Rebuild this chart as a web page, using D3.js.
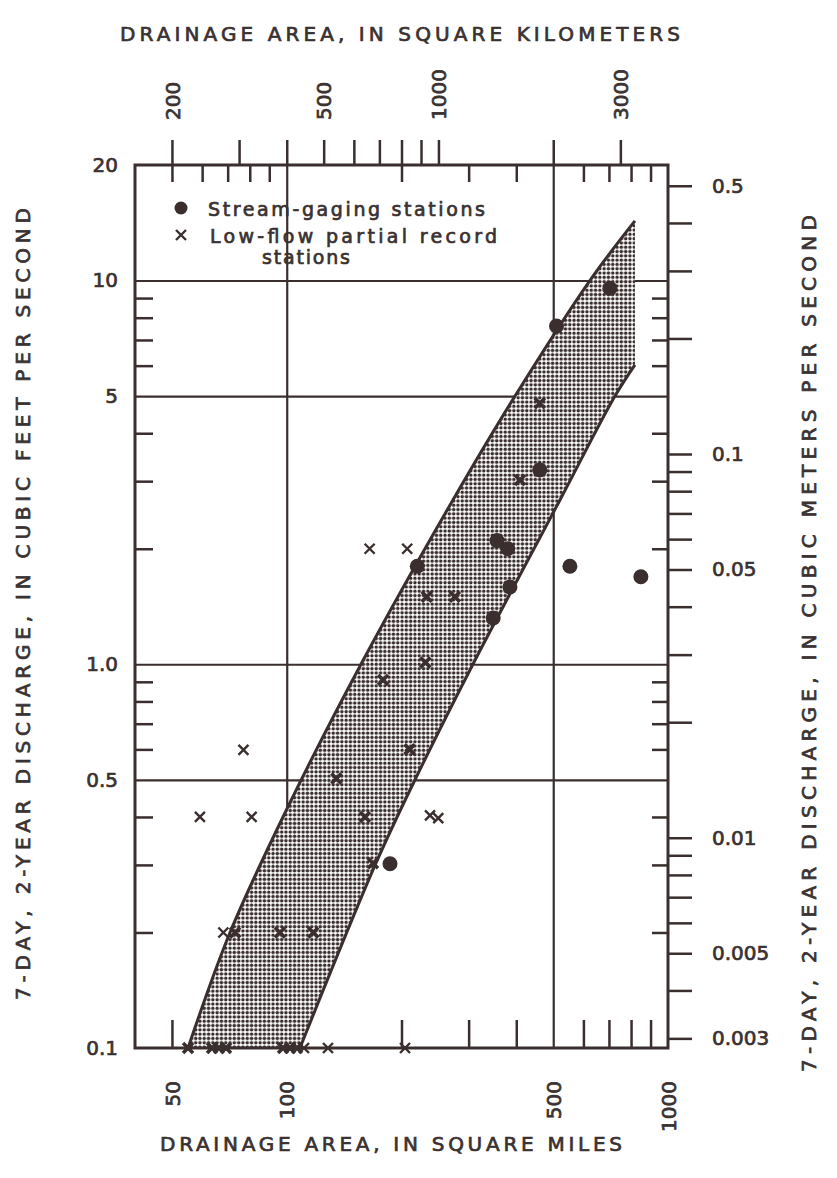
<!DOCTYPE html>
<html>
<head>
<meta charset="utf-8">
<script src="https://cdn.jsdelivr.net/npm/d3@7/dist/d3.min.js"></script>
<style>
  body { margin: 0; background: #fff; }
  text { font-family: "DejaVu Sans", sans-serif; fill: #3a3131; stroke: #3a3131; stroke-width: 0.7px; }
</style>
</head>
<body>
<div class="container"></div>
<script>
// stream-gaging stations: drainage area (sq mi), 7-day 2-year flow (cfs)
var gagingArea = [704, 510, 461, 356, 380, 385, 348, 220, 553, 849, 186.6];
var gagingFlow = [9.54, 7.61, 3.21, 2.10, 2.0, 1.59, 1.32, 1.80, 1.80, 1.69, 0.302];

// low-flow partial record stations
var partialArea = [461, 409, 165, 207, 233, 276, 231, 179, 210, 135, 77, 59.2, 80.9, 160.4, 237.6, 249.7, 168.4,
  68.2, 73.2, 96, 117.4, 55.1, 63.7, 66.4, 69.3, 97.8, 102, 106.4, 111, 128.3, 204.3];
var partialFlow = [4.79, 3.02, 2.0, 2.0, 1.5, 1.5, 1.01, 0.91, 0.60, 0.504, 0.598, 0.40, 0.40, 0.40, 0.404, 0.397, 0.303,
  0.2, 0.2, 0.2, 0.2, 0.1, 0.1, 0.1, 0.1, 0.1, 0.1, 0.1, 0.1, 0.1, 0.1];

// shaded band edges
var upperArea = [55.1, 71.0, 99.8, 156.6, 272.9, 397, 624, 819];
var upperFlow = [0.1, 0.2, 0.417, 1.0, 2.68, 5.0, 10.0, 14.3];
var lowerArea = [108.3, 171.5, 217, 307.9, 520.8, 726, 819];
var lowerFlow = [0.1, 0.3035, 0.5, 1.0, 2.68, 5.0, 6.03];

// axes
var flowLabels = [20, 10, 5, 1, 0.5, 0.1];
var flowText = ["20", "10", "5", "1.0", "0.5", "0.1"];
var flowGrid = [10, 5, 1, 0.5];
var flowMinor = [9, 8, 7, 6, 4, 3, 2, 0.9, 0.8, 0.7, 0.6, 0.4, 0.3, 0.2];
var areaGrid = [100, 500];
var areaMinorBottom = [50, 200, 300, 400, 600, 700, 800, 900];
var areaMinorTop = [50, 60, 70, 80, 90, 200, 300, 400, 600, 700, 800, 900];
var areaLabels = [50, 100, 500, 1000];
var kmTicks = [200, 300, 400, 500, 600, 700, 800, 900, 1000, 2000, 3000];
var kmLabels = [200, 500, 1000, 3000];
var cmsTicks = [0.5, 0.4, 0.3, 0.2, 0.1, 0.09, 0.08, 0.07, 0.06, 0.05, 0.04, 0.03, 0.02,
  0.01, 0.009, 0.008, 0.007, 0.006, 0.005, 0.004, 0.003];
var cmsLabels = [0.5, 0.1, 0.05, 0.01, 0.005, 0.003];

var ink = "#3a2e2e";
var CFS = 0.0283168;
var L = 135, R = 668, T = 165, B = 1048;

var svg = d3.select(".container").append("svg")
  .attr("width", 837)
  .attr("height", 1178)
  .style("display", "block");

svg.append("rect").attr("width", 837).attr("height", 1178).attr("fill", "#fff");

var x = d3.scaleLog().domain([40, 1000]).range([L, R]);
var xKm = d3.scaleLog().domain([160, 4000]).range([L, R]);
var y = d3.scaleLog().domain([0.1, 20]).range([B, T]);
var yCms = d3.scaleLog().domain([0.1 * CFS, 20 * CFS]).range([B, T]);

var defs = svg.append("defs");
var pat = defs.append("pattern").attr("id", "stip")
  .attr("patternUnits", "userSpaceOnUse")
  .attr("width", 4.3).attr("height", 4.3);
pat.append("rect").attr("width", 4.3).attr("height", 4.3).attr("fill", "#fff");
pat.append("circle").attr("cx", 2.15).attr("cy", 2.15).attr("r", 1.75).attr("fill", ink);

defs.append("clipPath").attr("id", "plot")
  .append("rect").attr("x", L).attr("y", T).attr("width", R - L).attr("height", B - T);

function styleAxis(g, w) {
  g.select(".domain").remove();
  g.selectAll("line").attr("stroke", ink).attr("stroke-width", w);
  g.attr("font-family", "DejaVu Sans").attr("font-size", 20);
  g.selectAll("text").attr("fill", "#3a3131");
}

// grid lines
svg.append("g").attr("transform", "translate(0," + B + ")")
  .call(d3.axisBottom(x).tickValues(areaGrid).tickSize(-(B - T)).tickFormat(""))
  .call(styleAxis, 2.2);
svg.append("g").attr("transform", "translate(" + L + ",0)")
  .call(d3.axisLeft(y).tickValues(flowGrid).tickSize(-(R - L)).tickFormat(""))
  .call(styleAxis, 2.2);

// band
var ptsU = upperArea.map(function(a, i) { return [x(a), y(upperFlow[i])]; });
var ptsL = lowerArea.map(function(a, i) { return [x(a), y(lowerFlow[i])]; });
var line = d3.line().curve(d3.curveCatmullRom.alpha(0.5));
var upPath = line(ptsU);
var lowRev = line(ptsL.slice().reverse());
var band = svg.append("g").attr("clip-path", "url(#plot)");
band.append("path")
  .attr("d", upPath + "L" + lowRev.slice(1) + "Z")
  .attr("fill", "url(#stip)");
band.append("path").attr("d", upPath).attr("fill", "none").attr("stroke", ink).attr("stroke-width", 3);
band.append("path").attr("d", line(ptsL)).attr("fill", "none").attr("stroke", ink).attr("stroke-width", 3);

// inward ticks
svg.append("g").attr("transform", "translate(" + L + ",0)")
  .call(d3.axisLeft(y).tickValues(flowMinor).tickSize(-18).tickFormat(""))
  .call(styleAxis, 2.5);
svg.append("g").attr("transform", "translate(" + R + ",0)")
  .call(d3.axisRight(y).tickValues(flowMinor).tickSize(-16).tickFormat(""))
  .call(styleAxis, 2.5);
svg.append("g").attr("transform", "translate(0," + B + ")")
  .call(d3.axisBottom(x).tickValues(areaMinorBottom).tickSize(-28).tickFormat(""))
  .call(styleAxis, 2.5);
svg.append("g").attr("transform", "translate(0," + T + ")")
  .call(d3.axisTop(x).tickValues(areaMinorTop).tickSize(-17).tickFormat(""))
  .call(styleAxis, 2.5);

// left labels
svg.append("g").attr("transform", "translate(" + L + ",0)")
  .call(d3.axisLeft(y).tickValues(flowLabels).tickSize(0).tickPadding(17)
    .tickFormat(function(d, i) { return flowText[i]; }))
  .call(styleAxis, 0);

// right axis, cubic meters per second
svg.append("g").attr("transform", "translate(" + R + ",0)")
  .call(d3.axisRight(yCms).tickValues(cmsTicks).tickSize(24).tickPadding(20)
    .tickFormat(function(d) { return cmsLabels.indexOf(d) >= 0 ? String(d) : ""; }))
  .call(styleAxis, 2.5);

// top axis, square kilometers
var topAx = svg.append("g").attr("transform", "translate(0," + T + ")")
  .call(d3.axisTop(xKm).tickValues(kmTicks).tickSize(25)
    .tickFormat(function(d) { return kmLabels.indexOf(d) >= 0 ? String(d) : ""; }))
  .call(styleAxis, 2.5);
topAx.selectAll("text")
  .attr("transform", "rotate(-90)")
  .attr("x", 45).attr("y", 0).attr("dy", "0.36em")
  .attr("text-anchor", "start");

// bottom labels, square miles
var botAx = svg.append("g").attr("transform", "translate(0," + B + ")")
  .call(d3.axisBottom(x).tickValues(areaLabels).tickSize(0).tickFormat(d3.format("d")))
  .call(styleAxis, 0);
botAx.selectAll("text")
  .attr("transform", "rotate(-90)")
  .attr("x", -33).attr("y", 0).attr("dy", "0.36em")
  .attr("text-anchor", "end");

// frame
svg.append("rect")
  .attr("x", L).attr("y", T).attr("width", R - L).attr("height", B - T)
  .attr("fill", "none").attr("stroke", ink).attr("stroke-width", 3);

// points
var upX = d3.scaleLinear().domain(ptsU.map(function(p) { return p[1]; })).range(ptsU.map(function(p) { return p[0]; })).clamp(true);
var lowX = d3.scaleLinear().domain(ptsL.map(function(p) { return p[1]; })).range(ptsL.map(function(p) { return p[0]; })).clamp(true);
var xmark = "M-5,-5L5,5M-5,5L5,-5";

svg.append("g").selectAll("path").data(partialArea).enter()
  .append("path")
  .attr("d", xmark)
  .attr("transform", function(d, i) { return "translate(" + x(d) + "," + y(partialFlow[i]) + ")"; })
  .attr("fill", "none")
  .attr("stroke", ink)
  .attr("stroke-width", function(d, i) {
    var px = x(d), py = y(partialFlow[i]);
    return (px >= upX(py) - 3 && px <= lowX(py) + 3) ? 3.6 : 2.4;
  });

svg.append("g").selectAll("circle").data(gagingArea).enter()
  .append("circle")
  .attr("cx", function(d) { return x(d); })
  .attr("cy", function(d, i) { return y(gagingFlow[i]); })
  .attr("r", 7.5)
  .attr("fill", ink);

// legend
svg.append("circle").attr("cx", 181).attr("cy", 208).attr("r", 6.5).attr("fill", ink);
svg.append("path").attr("d", xmark).attr("transform", "translate(181,235)")
  .attr("fill", "none").attr("stroke", ink).attr("stroke-width", 2.4);
svg.append("text").attr("x", 208).attr("y", 216).attr("font-size", 19)
  .attr("textLength", 277).attr("lengthAdjust", "spacing").text("Stream-gaging stations");
svg.append("text").attr("x", 210).attr("y", 243).attr("font-size", 19)
  .attr("textLength", 287).attr("lengthAdjust", "spacing").text("Low-flow  partial  record");
svg.append("text").attr("x", 262).attr("y", 264).attr("font-size", 19)
  .attr("textLength", 88).attr("lengthAdjust", "spacing").text("stations");

// titles
svg.append("text").attr("x", 120).attr("y", 41).attr("font-size", 20)
  .attr("textLength", 560).attr("lengthAdjust", "spacing")
  .text("DRAINAGE AREA, IN SQUARE KILOMETERS");
svg.append("text").attr("x", 160).attr("y", 1151).attr("font-size", 20)
  .attr("textLength", 462).attr("lengthAdjust", "spacing")
  .text("DRAINAGE AREA, IN SQUARE MILES");
svg.append("text").attr("transform", "translate(30,1000) rotate(-90)").attr("font-size", 20)
  .attr("textLength", 792).attr("lengthAdjust", "spacing")
  .text("7-DAY, 2-YEAR DISCHARGE, IN CUBIC FEET PER SECOND");
svg.append("text").attr("transform", "translate(816,1072) rotate(-90)").attr("font-size", 20)
  .attr("textLength", 857).attr("lengthAdjust", "spacing")
  .text("7-DAY, 2-YEAR DISCHARGE, IN CUBIC METERS PER SECOND");
</script>
</body>
</html>
